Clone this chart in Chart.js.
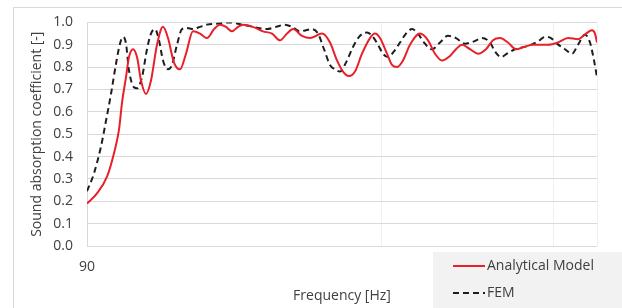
<!DOCTYPE html>
<html>
<head>
<meta charset="utf-8">
<script src="https://cdn.jsdelivr.net/npm/chart.js@4/dist/chart.umd.min.js"></script>
<style>
  html, body { margin: 0; padding: 0; background: #fff; }
  #wrap { position: relative; width: 622px; height: 308px; }
</style>
</head>
<body>
<div id="wrap"><canvas id="chart" width="622" height="308"></canvas></div>
<script>
// frequency [Hz] and absorption values
var freqAnalytical = [90, 130, 170, 198, 218, 230, 246, 258, 274, 290, 306, 326, 346, 370, 394, 414, 438, 462, 486,
  514, 542, 570, 598, 622, 646, 670, 694, 714, 754, 794, 830, 862, 890, 914, 950, 982, 1030, 1062, 1090,
  1114, 1138, 1162, 1190, 1222, 1242, 1262, 1290, 1310, 1330, 1354, 1382, 1422, 1454, 1482, 1510, 1542, 1566, 1590, 1622,
  1654, 1686, 1714, 1742, 1774, 1806, 1838, 1874, 1934, 1974, 2014, 2054, 2086, 2110, 2122, 2130];
var absAnalytical = [0.19, 0.235, 0.31, 0.415, 0.52, 0.64, 0.755, 0.845, 0.88, 0.845, 0.74, 0.68, 0.74, 0.90, 0.98, 0.93, 0.82, 0.79, 0.86,
  0.96, 0.95, 0.93, 0.97, 0.99, 0.98, 0.96, 0.98, 0.99, 0.98, 0.96, 0.95, 0.92, 0.95, 0.97, 0.94, 0.93, 0.95, 0.91, 0.83,
  0.78, 0.76, 0.78, 0.86, 0.93, 0.95, 0.93, 0.86, 0.81, 0.80, 0.83, 0.90, 0.95, 0.92, 0.86, 0.83, 0.85, 0.88, 0.90, 0.88,
  0.86, 0.88, 0.92, 0.93, 0.91, 0.88, 0.89, 0.90, 0.90, 0.91, 0.93, 0.925, 0.95, 0.965, 0.95, 0.91];

var freqFem = [90, 118, 146, 166, 186, 206, 222, 234, 246, 258, 278, 290, 310, 330, 346, 362, 378, 394, 414,
  430, 450, 470, 490, 514, 542, 570, 614, 662, 710, 754, 810, 846, 882, 910, 942, 966, 990, 1014, 1038,
  1062, 1082, 1102, 1126, 1154, 1182, 1210, 1230, 1254, 1274, 1294, 1318, 1342, 1366, 1390, 1414, 1438, 1470, 1502, 1534,
  1566, 1602, 1638, 1670, 1702, 1722, 1746, 1770, 1802, 1854, 1894, 1922, 1946, 1970, 2002, 2030, 2054, 2082, 2102, 2118, 2130];
var absFem = [0.245, 0.325, 0.445, 0.56, 0.68, 0.815, 0.905, 0.935, 0.905, 0.785, 0.71, 0.705, 0.755, 0.88, 0.95, 0.97, 0.92, 0.83, 0.79,
  0.81, 0.90, 0.97, 0.975, 0.97, 0.98, 0.99, 0.995, 1.0, 0.99, 0.98, 0.97, 0.98, 0.99, 0.98, 0.96, 0.965, 0.97, 0.95, 0.88,
  0.81, 0.79, 0.78, 0.82, 0.89, 0.94, 0.955, 0.94, 0.90, 0.86, 0.845, 0.87, 0.91, 0.95, 0.97, 0.95, 0.91, 0.88, 0.91, 0.94,
  0.93, 0.905, 0.915, 0.93, 0.91, 0.87, 0.845, 0.86, 0.88, 0.895, 0.915, 0.935, 0.93, 0.905, 0.88, 0.86, 0.90, 0.945, 0.91, 0.83, 0.755];

var xGridValues = [90, 1266, 1954, 2130];
var xTickLabels = ['90', '', '', ''];
var seriesLabels = ['Analytical Model', 'FEM'];

var FONT = '"Open Sans", "Liberation Sans", sans-serif';

function toPoints(xs, ys){
  var pts = [];
  for (var i = 0; i < xs.length; i++) pts.push({ x: xs[i], y: ys[i] });
  return pts;
}

// frame and legend box drawn on the canvas
var decor = {
  id: 'decor',
  beforeDraw: function(chart){
    var ctx = chart.ctx;
    ctx.save();
    ctx.strokeStyle = '#d9d9d9';
    ctx.lineWidth = 1;
    ctx.strokeRect(13.5, 7.5, 700, 400);
    ctx.restore();
  },
  afterDraw: function(chart){
    var ctx = chart.ctx;
    ctx.save();
    ctx.fillStyle = '#f2f2f2';
    ctx.fillRect(433, 252, 189, 56);
    var rows = [266, 293];
    chart.data.datasets.forEach(function(ds, i){
      var y = rows[i];
      ctx.strokeStyle = ds.borderColor;
      ctx.lineWidth = 2;
      ctx.setLineDash(ds.borderDash || []);
      ctx.beginPath();
      ctx.moveTo(453, y);
      ctx.lineTo(485, y);
      ctx.stroke();
      ctx.setLineDash([]);
      ctx.fillStyle = '#404040';
      ctx.font = '14px ' + FONT;
      ctx.textBaseline = 'middle';
      ctx.fillText(ds.label, 487, y);
    });
    ctx.restore();
  }
};

new Chart(document.getElementById('chart'), {
  type: 'line',
  data: {
    datasets: [
      { label: seriesLabels[0], data: toPoints(freqAnalytical, absAnalytical),
        borderColor: '#e8202a', borderWidth: 2, pointRadius: 0, cubicInterpolationMode: 'monotone', fill: false },
      { label: seriesLabels[1], data: toPoints(freqFem, absFem),
        borderColor: '#1e1e1e', borderWidth: 2, borderDash: [6, 4], pointRadius: 0, cubicInterpolationMode: 'monotone', fill: false }
    ]
  },
  options: {
    responsive: false,
    animation: false,
    layout: { padding: { left: 29, right: 25, top: 22, bottom: 0 } },
    plugins: { legend: { display: false }, tooltip: { enabled: false } },
    scales: {
      x: {
        type: 'linear',
        min: 90,
        max: 2130,
        afterBuildTicks: function(scale){
          scale.ticks = xGridValues.map(function(v){ return { value: v }; });
        },
        afterFit: function(scale){ scale.height = 62; },
        ticks: {
          autoSkip: false, maxRotation: 0, padding: 13, color: '#404040',
          font: { family: FONT, size: 14 },
          callback: function(v){ var i = xGridValues.indexOf(v); return i >= 0 ? xTickLabels[i] : ''; }
        },
        grid: { color: '#f0f0f0', drawTicks: false },
        border: { display: false },
        title: { display: true, text: 'Frequency [Hz]', color: '#404040', font: { family: FONT, size: 14 }, padding: { top: 2 } }
      },
      y: {
        min: 0,
        max: 1,
        afterFit: function(scale){ scale.width = 58; },
        ticks: {
          stepSize: 0.1, padding: 14, color: '#404040',
          font: { family: FONT, size: 14 },
          callback: function(v){ return v.toFixed(1); }
        },
        grid: { color: '#d9d9d9', drawTicks: false },
        border: { color: '#d9d9d9' },
        title: { display: true, text: 'Sound absorption coefficient [-]', color: '#404040', font: { family: FONT, size: 14 }, padding: 0 }
      }
    }
  },
  plugins: [decor]
});
</script>
</body>
</html>
